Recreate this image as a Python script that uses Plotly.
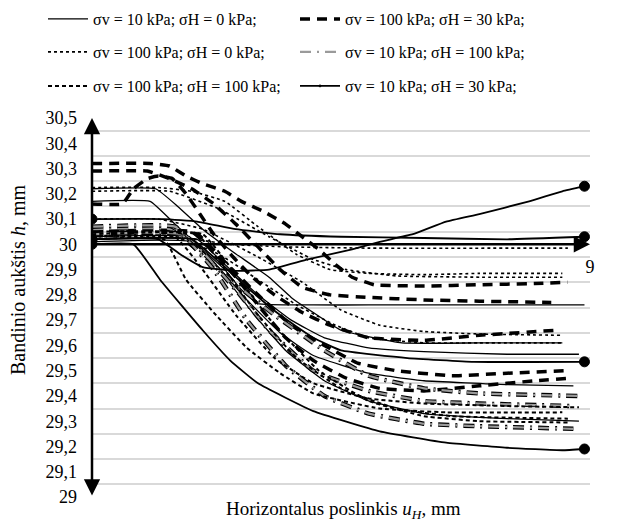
import plotly.graph_objects as go

# ---------------- data ----------------
ytick_vals = [29.0, 29.1, 29.2, 29.3, 29.4, 29.5, 29.6, 29.7, 29.8, 29.9, 30.0, 30.1, 30.2, 30.3, 30.4, 30.5]
ytick_text = ["29", "29,1", "29,2", "29,3", "29,4", "29,5", "29,6", "29,7", "29,8", "29,9",
              "30", "30,1", "30,2", "30,3", "30,4", "30,5"]
grid_vals = [29.05, 29.15, 29.25, 29.35, 29.45, 29.55, 29.65, 29.75, 29.85, 29.95,
             30.05, 30.15, 30.25, 30.35, 30.45]
xtick_vals = [9]
xtick_text = ["9"]

label_s = "σv = 10 kPa; σH = 0 kPa;"
label_t = "σv = 100 kPa; σH = 30 kPa;"
label_d = "σv = 100 kPa; σH = 0 kPa;"
label_g = "σv = 10 kPa; σH = 100 kPa;"
label_sd = "σv = 100 kPa; σH = 100 kPa;"
label_m = "σv = 10 kPa; σH = 30 kPa;"

# solid: sv=10, sH=0
s1_x = [0, 1.05, 1.5, 2.0, 2.4, 2.7, 3.0, 4.0, 5.0, 6.0, 7.0, 8.0, 8.9]
s1_y = [30.17, 30.17, 30.08, 29.98, 29.9, 29.82, 29.765, 29.76, 29.76, 29.76, 29.76, 29.76, 29.76]
s2_x = [0, 1.15, 1.55, 2.0, 2.55, 3.2, 3.6, 4.0, 4.5, 5.6, 7.0, 8.5]
s2_y = [30.22, 30.22, 30.15, 30.06, 29.97, 29.87, 29.79, 29.73, 29.66, 29.61, 29.61, 29.61]
s3_x = [0, 1.9, 2.4, 3.0, 3.6, 4.2, 5.0, 6.0, 7.5, 8.8]
s3_y = [30.02, 30.02, 29.92, 29.8, 29.7, 29.63, 29.59, 29.575, 29.565, 29.565]
s4_x = [0, 1.7, 2.2, 2.8, 3.4, 4.0, 5.0, 6.0, 7.5, 8.7]
s4_y = [30.03, 30.03, 29.93, 29.78, 29.65, 29.56, 29.49, 29.46, 29.445, 29.44]
s5_x = [0, 1.8, 2.3, 2.9, 3.5, 4.2, 5.0, 6.0, 7.5, 8.8]
s5_y = [30.01, 30.01, 29.9, 29.73, 29.58, 29.46, 29.38, 29.33, 29.31, 29.30]

# thick dash: sv=100, sH=30
t1_x = [0, 1.05, 1.4, 1.7, 2.0, 2.4, 2.7, 3.1, 3.5, 3.8, 4.1, 4.4, 4.7, 5.1, 6.0, 7.0, 8.0, 8.6]
t1_y = [30.32, 30.32, 30.31, 30.27, 30.24, 30.21, 30.17, 30.13, 30.08, 30.03, 29.98, 29.92, 29.87,
        29.84, 29.835, 29.84, 29.845, 29.85]
t2_x = [0, 1.0, 1.4, 1.8, 2.2, 2.6, 3.0, 3.4, 3.8, 4.3, 5.0, 6.0, 7.0, 8.3]
t2_y = [30.29, 30.29, 30.26, 30.22, 30.16, 30.08, 29.99, 29.9, 29.83, 29.8, 29.79, 29.78, 29.775, 29.77]
t3_x = [0, 0.55, 0.75, 1.0, 1.2, 1.45, 1.7, 1.95, 2.2, 2.55, 2.9, 3.3, 3.8, 4.3, 5.0, 6.0, 7.0, 8.4]
t3_y = [30.16, 30.16, 30.22, 30.26, 30.27, 30.26, 30.2, 30.12, 30.04, 29.95, 29.87, 29.8, 29.73,
        29.68, 29.63, 29.62, 29.64, 29.66]
t4_x = [0, 1.8, 2.2, 2.6, 3.0, 3.5, 4.0, 4.6, 5.2, 6.0, 7.0, 8.0, 8.6]
t4_y = [30.05, 30.05, 29.97, 29.87, 29.76, 29.63, 29.54, 29.47, 29.43, 29.42, 29.44, 29.46, 29.47]
t5_x = [0, 1.9, 2.4, 3.0, 3.6, 4.2, 4.8, 5.5, 6.5, 7.5, 8.6]
t5_y = [30.04, 30.04, 29.93, 29.8, 29.68, 29.6, 29.53, 29.5, 29.48, 29.49, 29.5]

# dotted: sv=100, sH=0
d1_x = [0, 1.2, 1.8, 2.4, 3.0, 3.7, 4.3, 5.0, 6.0, 7.0, 8.5]
d1_y = [30.225, 30.225, 30.21, 30.17, 30.07, 29.96, 29.9, 29.885, 29.88, 29.885, 29.885]
d2_x = [0, 1.4, 2.3, 3.2, 4.0, 4.6, 5.5, 7.0, 8.5]
d2_y = [30.21, 30.21, 30.14, 30.03, 29.94, 29.9, 29.875, 29.87, 29.87]
d3_x = [0, 1.2, 2.0, 3.0, 3.8, 4.5, 5.2, 6.0, 7.0, 8.5]
d3_y = [30.10, 30.10, 30.06, 29.95, 29.85, 29.74, 29.68, 29.655, 29.645, 29.64]
d4_x = [0, 1.5, 2.3, 3.0, 3.7, 4.4, 5.0, 6.0, 7.0, 8.5]
d4_y = [30.035, 30.03, 29.96, 29.86, 29.76, 29.68, 29.63, 29.61, 29.61, 29.61]
d5_x = [0, 1.5, 2.5, 3.5, 5.0, 8.6]
d5_y = [30.03, 30.03, 30.0, 29.99, 29.985, 29.985]

# gray dash-dot: sv=10, sH=100
g1_x = [0, 1.4, 1.9, 2.5, 3.3, 4.2, 5.0, 6.0, 7.0, 8.8]
g1_y = [30.06, 30.06, 29.98, 29.86, 29.72, 29.58, 29.48, 29.43, 29.41, 29.40]
g2_x = [0, 1.5, 2.0, 2.6, 3.2, 4.0, 5.0, 6.0, 7.0, 8.7]
g2_y = [30.07, 30.07, 29.97, 29.82, 29.66, 29.5, 29.42, 29.38, 29.37, 29.36]
g3_x = [0, 1.6, 2.2, 2.8, 3.5, 4.2, 5.0, 6.0, 7.0, 8.7]
g3_y = [30.04, 30.04, 29.9, 29.7, 29.52, 29.4, 29.33, 29.29, 29.28, 29.27]

# short dash: sv=100, sH=100
sd1_x = [0, 1.5, 2.0, 2.6, 3.3, 4.0, 5.0, 6.0, 7.5, 8.8]
sd1_y = [30.03, 30.03, 29.9, 29.72, 29.55, 29.45, 29.39, 29.37, 29.36, 29.355]
sd2_x = [0, 1.3, 1.7, 2.2, 2.8, 3.4, 4.0, 5.2, 6.4, 8.5]
sd2_y = [30.02, 30.02, 29.86, 29.73, 29.59, 29.49, 29.41, 29.35, 29.335, 29.335]
sd3_x = [0, 1.9, 2.4, 3.0, 3.7, 4.5, 5.5, 6.5, 8.6]
sd3_y = [30.04, 30.04, 29.9, 29.72, 29.55, 29.43, 29.35, 29.32, 29.31]
sd4_x = [0, 2.0, 2.6, 3.3, 4.1, 5.0, 6.0, 7.0, 8.6]
sd4_y = [30.05, 30.04, 29.88, 29.68, 29.5, 29.38, 29.32, 29.3, 29.295]

# solid with end dots: sv=10, sH=30
m1_x = [0, 1.2, 1.6, 2.0, 2.6, 3.2, 3.9, 4.7, 5.2, 5.8, 6.4, 7.0, 7.9, 8.5, 8.9]
m1_y = [30.02, 30.02, 29.96, 29.91, 29.895, 29.9, 29.94, 29.98, 30.01, 30.04, 30.09, 30.12, 30.17, 30.21, 30.23]
m2_x = [0, 1.3, 1.9, 2.6, 3.4, 4.5, 6.0, 7.5, 8.9]
m2_y = [30.10, 30.10, 30.09, 30.06, 30.04, 30.03, 30.025, 30.02, 30.03]
m3_x = [0, 1.8, 2.3, 2.8, 3.4, 4.0, 4.5, 5.7, 6.9, 8.9]
m3_y = [30.02, 30.02, 29.93, 29.83, 29.72, 29.63, 29.58, 29.55, 29.535, 29.535]
m4_x = [0, 0.75, 1.23, 2.0, 2.5, 3.0, 4.0, 5.2, 6.4, 7.5, 8.5, 8.9]
m4_y = [30.0, 30.0, 29.86, 29.66, 29.54, 29.45, 29.34, 29.26, 29.215, 29.195, 29.185, 29.19]

# ---------------- figure ----------------
FONT = "Liberation Serif"
fig = go.Figure()
LS = dict(shape="spline", smoothing=0.35)


def add(xs, ys, name, legend, rank, show, line, mode="lines", marker=None):
    fig.add_trace(go.Scatter(
        x=xs, y=ys, name=name, mode=mode, legend=legend, legendgroup=name,
        legendrank=rank, showlegend=show, line=dict(**line, **LS),
        marker=marker, hoverinfo="skip"))


solid = dict(color="black", width=1.3)
thick = dict(color="black", width=3.5, dash="10px,7px")
dotted = dict(color="black", width=1.6, dash="dot")
gray_o = dict(color="black", width=4.5, dash="11px,6px,2px,6px")
gray_i = dict(color="#9a9a9a", width=2.2, dash="11px,6px,2px,6px")
short = dict(color="black", width=2.0, dash="4px,3px")
dotl = dict(color="black", width=1.8)

for i, (xs, ys) in enumerate([(s1_x, s1_y), (s2_x, s2_y), (s3_x, s3_y), (s4_x, s4_y), (s5_x, s5_y)]):
    add(xs, ys, label_s, "legend", 1, i == 0, solid)
for i, (xs, ys) in enumerate([(t1_x, t1_y), (t2_x, t2_y), (t3_x, t3_y), (t4_x, t4_y), (t5_x, t5_y)]):
    add(xs, ys, label_t, "legend", 2, i == 0, thick)
for i, (xs, ys) in enumerate([(d1_x, d1_y), (d2_x, d2_y), (d3_x, d3_y), (d4_x, d4_y), (d5_x, d5_y)]):
    add(xs, ys, label_d, "legend2", 1, i == 0, dotted)
for i, (xs, ys) in enumerate([(g1_x, g1_y), (g2_x, g2_y), (g3_x, g3_y)]):
    add(xs, ys, label_g + " ", "legend2", 3, False, gray_o)
    add(xs, ys, label_g, "legend2", 2, i == 0, gray_i)
for i, (xs, ys) in enumerate([(sd1_x, sd1_y), (sd2_x, sd2_y), (sd3_x, sd3_y), (sd4_x, sd4_y)]):
    add(xs, ys, label_sd, "legend3", 1, i == 0, short)
for i, (xs, ys) in enumerate([(m1_x, m1_y), (m2_x, m2_y), (m3_x, m3_y), (m4_x, m4_y)]):
    sizes = [10] + [0] * (len(xs) - 2) + [10]
    add(xs, ys, label_m, "legend3", 2, i == 0, dotl, mode="lines+markers",
        marker=dict(size=sizes, color="black", opacity=1, line=dict(width=1, color="black")))

W, H = 622, 525
L, R, T, B = 92, 32, 118, 28
ph = H - T - B
pw = W - L - R


def py(p):
    return (H - B - p) / ph


def px(p):
    return (p - L) / pw


leg_common = dict(orientation="h", font=dict(family=FONT, size=16, color="black"),
                  entrywidth=197, entrywidthmode="pixels", xanchor="left", yanchor="middle",
                  bgcolor="rgba(0,0,0,0)", itemwidth=40, tracegroupgap=0)

fig.update_layout(
    width=W, height=H, margin=dict(l=L, r=R, t=T, b=B, autoexpand=False),
    paper_bgcolor="white", plot_bgcolor="white",
    font=dict(family=FONT, size=18, color="black"),
    legend=dict(x=px(43), y=py(19), **leg_common),
    legend2=dict(x=px(43), y=py(52), **leg_common),
    legend3=dict(x=px(43), y=py(86), **leg_common),
    xaxis=dict(range=[0, 9], showgrid=False, zeroline=False, showline=False,
               anchor="free", position=(30 - 29) / 1.5,
               tickmode="array", tickvals=xtick_vals, ticktext=xtick_text, ticks="",
               ticklabelstandoff=10, tickfont=dict(family=FONT, size=18, color="black")),
    yaxis=dict(range=[29, 30.5], showgrid=False, zeroline=False, showline=False,
               tickmode="array", tickvals=ytick_vals, ticktext=ytick_text, ticks="",
               ticklabelstandoff=14, tickfont=dict(family=FONT, size=18, color="black"),
               minor=dict(tickmode="array", tickvals=grid_vals, showgrid=True,
                          gridcolor="#d9d9d9", gridwidth=1.5, ticks="")),
    showlegend=True,
)

# axis arrows
fig.add_annotation(x=9.0, y=30, ax=0, ay=30, xref="x", yref="y", axref="x", ayref="y",
                   text="", showarrow=True, arrowhead=2, arrowsize=1.3, arrowwidth=2.5,
                   arrowcolor="black")
fig.add_annotation(x=0, y=30.5, ax=0, ay=29.0, xref="x", yref="y", axref="x", ayref="y",
                   text="", showarrow=True, arrowhead=2, startarrowhead=2, arrowside="end+start",
                   arrowsize=1.3, startarrowsize=1.3, arrowwidth=2.5, arrowcolor="black")

# axis titles
fig.add_annotation(xref="paper", yref="paper", x=px(18), y=py(280), text="Bandinio aukštis <i>h</i>, mm",
                   textangle=-90, showarrow=False, font=dict(family=FONT, size=20, color="black"),
                   xanchor="center", yanchor="middle")
fig.add_annotation(xref="paper", yref="paper", x=px(343), y=py(510),
                   text="Horizontalus poslinkis <i>u</i><sub><i>H</i></sub>, mm",
                   showarrow=False, font=dict(family=FONT, size=19, color="black"),
                   xanchor="center", yanchor="middle")

fig.write_html("out.html", config={"displayModeBar": False})

# remove the default page margin so the figure sits at the window's top-left corner
with open("out.html", encoding="utf-8") as fh:
    page = fh.read()
page = page.replace("<body>", '<body style="margin:0">', 1)
with open("out.html", "w", encoding="utf-8") as fh:
    fh.write(page)
